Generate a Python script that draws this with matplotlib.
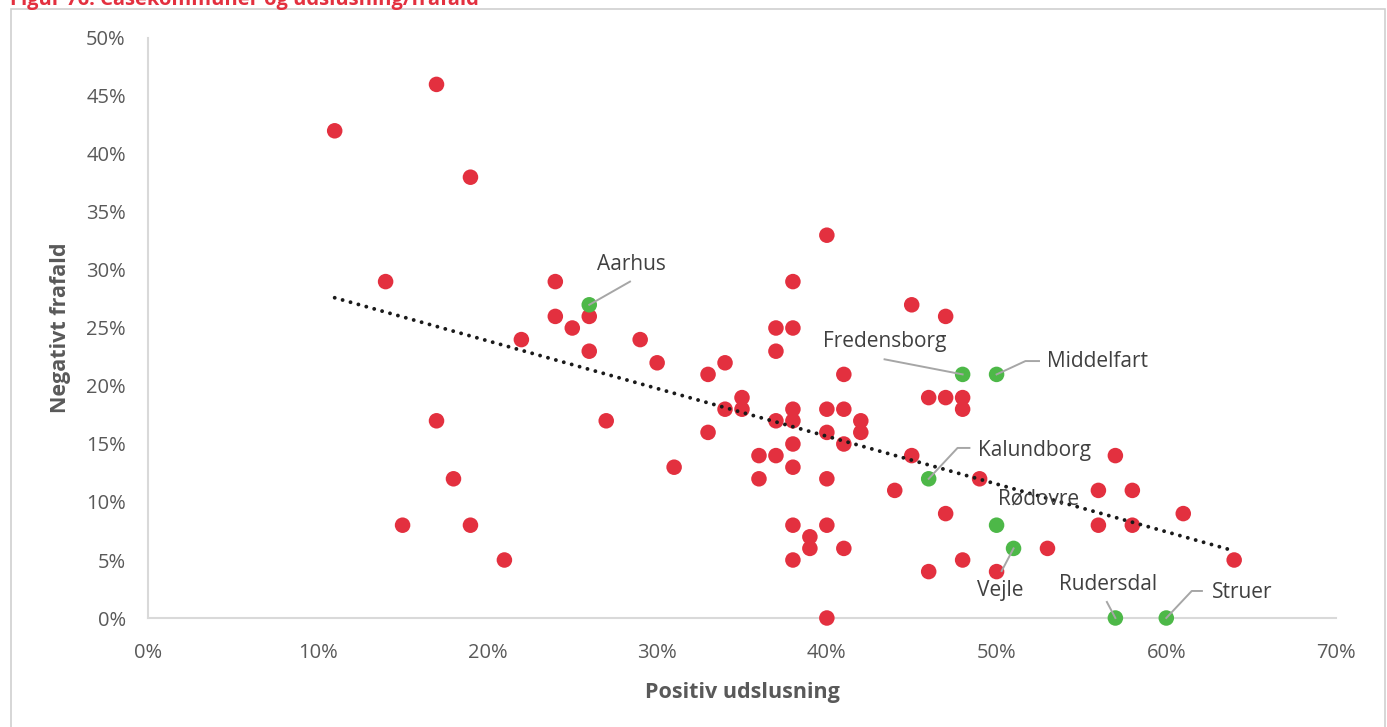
import numpy as np
import matplotlib
matplotlib.use("Agg")
import matplotlib.pyplot as plt
from matplotlib.patches import Rectangle

plt.rcParams['font.family'] = ['Open Sans', 'DejaVu Sans']

# ---- data (percent) ----
red_x = [11, 17, 19, 14, 24, 24, 25, 26, 26, 22, 29, 30, 27, 17, 18, 15, 19, 21, 31,
         33, 34, 33, 34, 35, 35, 37, 38, 38, 37, 40, 37, 38, 38, 38, 36, 37, 38, 36,
         38, 38, 39, 39, 40, 40, 41, 41, 41, 42, 42, 40, 40, 41, 40, 45, 47, 46, 47,
         48, 48, 45, 44, 49, 47, 48, 46, 50, 53, 57, 56, 58, 56, 58, 61, 64]
red_y = [42, 46, 38, 29, 29, 26, 25, 26, 23, 24, 24, 22, 17, 17, 12, 8, 8, 5, 13,
         21, 22, 16, 18, 19, 18, 25, 29, 25, 23, 33, 17, 18, 17, 15, 14, 14, 13, 12,
         8, 5, 7, 6, 18, 16, 21, 18, 15, 17, 16, 12, 8, 6, 0, 27, 26, 19, 19,
         19, 18, 14, 11, 12, 9, 5, 4, 4, 6, 14, 11, 11, 8, 8, 9, 5]

case_names = ["Aarhus", "Fredensborg", "Middelfart", "Kalundborg", "Rødovre",
              "Vejle", "Rudersdal", "Struer"]
case_x = [26, 48, 50, 46, 50, 51, 57, 60]
case_y = [27, 21, 21, 12, 8, 6, 0, 0]

x_ticks = [0, 10, 20, 30, 40, 50, 60, 70]
y_ticks = [0, 5, 10, 15, 20, 25, 30, 35, 40, 45, 50]

title = "Figur 76: Casekommuner og udslusning/frafald"
x_label = "Positiv udslusning"
y_label = "Negativt frafald"

# label placement: (text_x, text_y, leader path points excluding the marker)
label_layout = {
    "Aarhus":      ((26.46, 30.5), [(28.4, 29.0)]),
    "Fredensborg": ((39.8, 23.8), [(43.4, 22.3)]),
    "Middelfart":  ((53.0, 22.1), [(51.7, 22.15), (52.5, 22.15)]),
    "Kalundborg":  ((48.9, 14.4), [(47.7, 14.66), (48.4, 14.66)]),
    "Rødovre":     ((50.1, 10.3), []),
    "Vejle":       ((48.85, 2.4), [(50.3, 4.05)]),
    "Rudersdal":   ((53.7, 2.9), [(56.5, 1.38)]),
    "Struer":      ((62.7, 2.24), [(61.5, 2.33), (62.1, 2.33)]),
}

RED = "#E3303F"
GREEN = "#4DB848"
TXT = "#595959"
LBL = "#404040"
LEAD = "#A6A6A6"

W, H = 1387, 727
fig = plt.figure(figsize=(W / 100, H / 100), dpi=100)

# outer chart frame
fig.patches.append(Rectangle((11 / W, -0.05), (1385 - 11) / W, (H - 9) / H + 0.05,
                             transform=fig.transFigure, fill=False,
                             edgecolor="#D0D0D0", linewidth=1.2))

fig.text(10 / W, 1 - 5 / H, title, color="#E3303F", fontsize=14.5, fontweight="bold",
         ha="left", va="baseline")

ax = fig.add_axes([148 / W, 1 - 618 / H, (1336 - 148) / W, (618 - 38) / H])
ax.set_xlim(0, 70)
ax.set_ylim(0, 50)

all_x = np.array(red_x + case_x, dtype=float)
all_y = np.array(red_y + case_y, dtype=float)
coef = np.polyfit(all_x, all_y, 1)
tx = np.array([all_x.min(), all_x.max()])
ax.plot(tx, np.polyval(coef, tx), linestyle=(0, (0.01, 2.1)), color="#1a1a1a",
        linewidth=2.8, zorder=4, dash_capstyle="round")

ax.scatter(red_x, red_y, s=125, color=RED, edgecolors="none", zorder=3, clip_on=False)
ax.scatter(case_x, case_y, s=125, color=GREEN, edgecolors="none", zorder=5, clip_on=False)

for name, cx, cy in zip(case_names, case_x, case_y):
    (lx, ly), path = label_layout[name]
    if path:
        px = [cx] + [p[0] for p in path]
        py = [cy] + [p[1] for p in path]
        ax.plot(px, py, color=LEAD, linewidth=1.4, zorder=5.5, clip_on=False)
    ax.text(lx, ly, name, fontsize=15, color=LBL, ha="left", va="center", zorder=6)

ax.set_xticks(x_ticks)
ax.set_xticklabels([f"{v}%" for v in x_ticks])
ax.set_yticks(y_ticks)
ax.set_yticklabels([f"{v}%" for v in y_ticks])
ax.tick_params(axis="both", length=0, labelsize=14.5, colors=TXT)
ax.tick_params(axis="x", pad=18)
ax.tick_params(axis="y", pad=16)

for s in ["top", "right"]:
    ax.spines[s].set_visible(False)
for s in ["left", "bottom"]:
    ax.spines[s].set_color("#D9D9D9")
    ax.spines[s].set_linewidth(1.5)

ax.set_xlabel(x_label, fontsize=15.5, fontweight="bold", color=TXT, labelpad=14)
ax.set_ylabel(y_label, fontsize=15.5, fontweight="bold", color=TXT, labelpad=11)

fig.savefig("out.png", dpi=100)
